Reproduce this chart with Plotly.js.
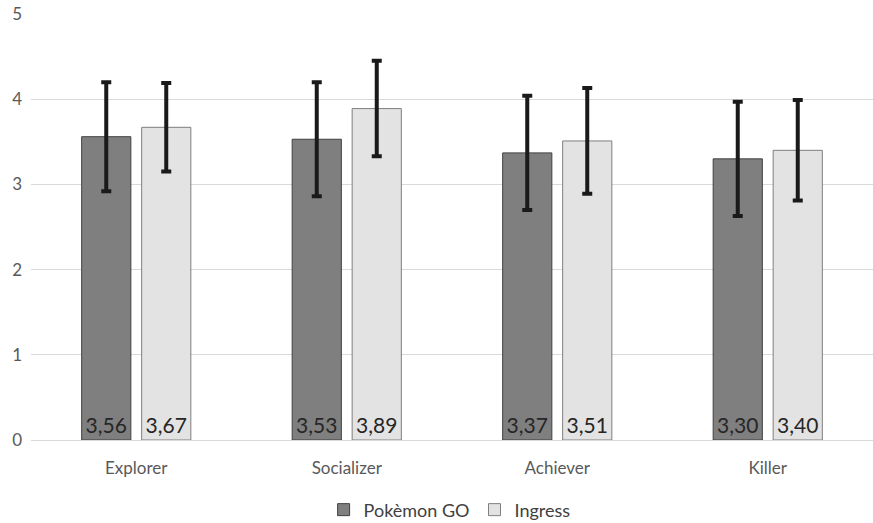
<!DOCTYPE html>
<html>
<head>
<meta charset="utf-8">
<script src="https://cdn.plot.ly/plotly-3.0.1.min.js"></script>
<style>html,body{margin:0;padding:0;background:#fff;}#chart{width:873px;height:523px;}</style>
</head>
<body>
<div id="chart"></div>
<script>
var categories = ["Explorer", "Socializer", "Achiever", "Killer"];
var seriesNames = ["Pokèmon GO", "Ingress"];
var pokemonGo = [3.56, 3.53, 3.37, 3.30];
var ingress = [3.67, 3.89, 3.51, 3.40];
var pokemonGoErr = [0.64, 0.67, 0.67, 0.67];
var ingressErr = [0.52, 0.56, 0.62, 0.59];
var yTicks = [0, 1, 2, 3, 4, 5];

function fmt(v) { return v.toFixed(2).replace(".", ","); }

var FONT = "Lato, 'Open Sans', sans-serif";

var traces = [
  {
    type: "bar", name: seriesNames[0], x: categories, y: pokemonGo,
    marker: { color: "#7f7f7f", line: { color: "#404040", width: 1 } },
    text: pokemonGo.map(fmt), textposition: "inside", insidetextanchor: "start",
    textangle: 0, constraintext: "none",
    textfont: { family: FONT, size: 21, color: "#262626" },
    error_y: { type: "data", array: pokemonGoErr, visible: true, color: "#1a1a1a", thickness: 4, width: 5 },
    hoverinfo: "none"
  },
  {
    type: "bar", name: seriesNames[1], x: categories, y: ingress,
    marker: { color: "#e3e3e3", line: { color: "#7f7f7f", width: 1 } },
    text: ingress.map(fmt), textposition: "inside", insidetextanchor: "start",
    textangle: 0, constraintext: "none",
    textfont: { family: FONT, size: 21, color: "#262626" },
    error_y: { type: "data", array: ingressErr, visible: true, color: "#1a1a1a", thickness: 4, width: 5 },
    hoverinfo: "none"
  }
];

var layout = {
  width: 873, height: 523,
  margin: { l: 31, r: 0, t: 14, b: 83, autoexpand: false },
  paper_bgcolor: "#ffffff", plot_bgcolor: "#ffffff",
  font: { family: FONT, size: 17, color: "#595959" },
  barmode: "group", bargap: 0.43, bargroupgap: 0.18,
  showlegend: true,
  legend: {
    orientation: "h", x: 0.515, xanchor: "center", xref: "container",
    y: 0.025, yanchor: "middle", yref: "container",
    font: { family: FONT, size: 18, color: "#404040" }, traceorder: "normal"
  },
  xaxis: {
    type: "category", showgrid: false, showline: true, linecolor: "#d9d9d9", linewidth: 1,
    ticks: "", tickfont: { family: FONT, size: 17, color: "#595959" }, ticklabelstandoff: 13,
    zeroline: false
  },
  yaxis: {
    range: [0, 5], tickvals: yTicks, ticktext: yTicks.map(String),
    showgrid: true, gridcolor: "#d9d9d9", gridwidth: 1, zeroline: false,
    showline: false, ticks: "", tickfont: { family: FONT, size: 17, color: "#595959" },
    ticklabelstandoff: 8
  }
};

Plotly.newPlot("chart", traces, layout, { staticPlot: true, displayModeBar: false });
</script>
</body>
</html>
